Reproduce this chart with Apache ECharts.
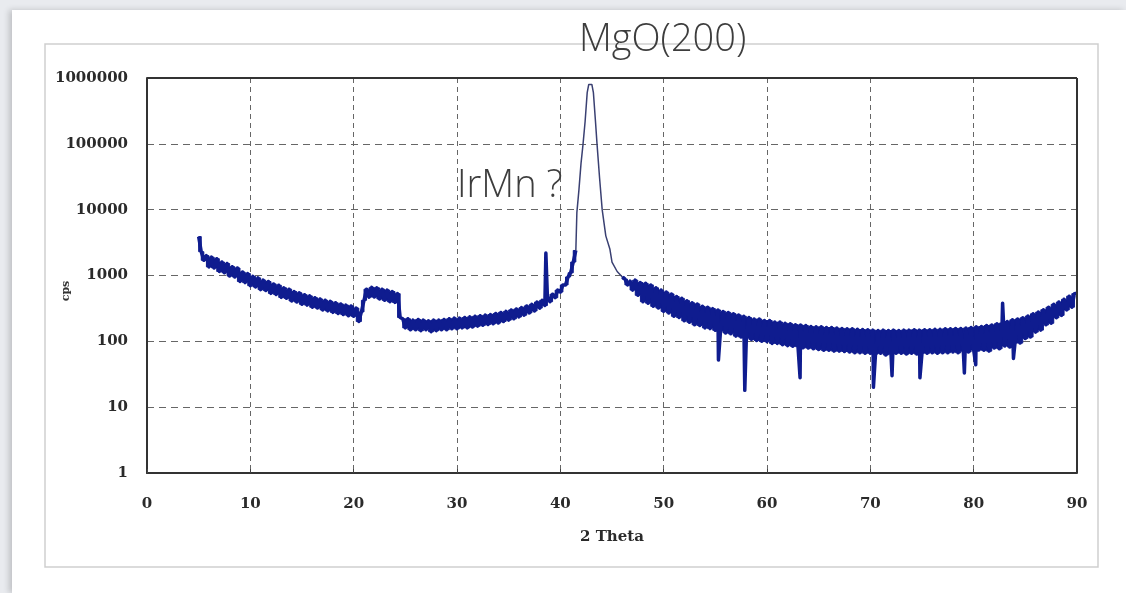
<!DOCTYPE html>
<html>
<head>
<meta charset="utf-8">
<title>XRD scan – MgO(200)</title>
<script src="https://cdn.jsdelivr.net/npm/echarts@6/dist/echarts.min.js"></script>
<style>
  html, body { margin: 0; padding: 0; width: 1126px; height: 593px; overflow: hidden; background: #e9ebef; }
  #sheet { position: absolute; left: 12px; top: 10px; right: 0; bottom: 0; background: #fff;
           box-shadow: -3px 0 6px rgba(0,0,0,0.18); }
  #chart { position: absolute; left: 0; top: 0; width: 1126px; height: 593px; }
</style>
</head>
<body>
<div id="sheet"></div>
<div id="chart"></div>
<script>
// 2θ scan, counts per second. Low-angle and high-angle backgrounds are
// sampled every 0.25°, alternating the lower and upper edge of the noise band.
const scanStep = 0.25;

// 5.00° … 41.50°
const lowAngleStart = 5;
const lowAngleCps = [
  3900, 2300, 1700, 2000,   // 5
  1350, 1900, 1300, 1800,   // 6
  1150, 1600, 1100, 1520,   // 7
  980, 1360, 950, 1300,     // 8
  810, 1130, 780, 1070,     // 9
  700, 970, 670, 920,       // 10
  610, 850, 590, 810,       // 11
  535, 745, 515, 710,       // 12
  465, 650, 450, 620,       // 13
  410, 570, 395, 545,       // 14
  365, 510, 355, 490,       // 15
  330, 460, 320, 440,       // 16
  300, 420, 290, 405,       // 17
  275, 385, 265, 370,       // 18
  255, 355, 245, 345,       // 19
  240, 320, 200, 280,       // 20
  420, 620, 470, 660,       // 21
  470, 650, 440, 620,       // 22
  420, 600, 400, 570,       // 23
  390, 530, 230, 220,       // 24
  160, 220, 150, 210,       // 25
  150, 215, 145, 210,       // 26
  150, 205, 140, 210,       // 27
  145, 210, 150, 215,       // 28
  150, 220, 155, 225,       // 29
  155, 225, 160, 230,       // 30
  160, 235, 165, 240,       // 31
  170, 245, 175, 250,       // 32
  180, 255, 185, 265,       // 33
  190, 275, 200, 285,       // 34
  210, 300, 220, 310,       // 35
  235, 325, 250, 345,       // 36
  270, 365, 290, 395,       // 37
  320, 420, 350, 470,       // 38
  400, 520, 460, 600,       // 39
  560, 720, 720, 950,       // 40
  1100, 1600, 2400          // 41
];

// MgO(200) reflection
const peakTheta = [41.5, 41.6, 41.8, 42.0, 42.2, 42.4, 42.6, 42.75, 42.9, 43.05, 43.2, 43.4,
                   43.55, 43.8, 44.05, 44.4, 44.8, 45.0, 45.5, 46.0];
const peakCps   = [2400, 9000, 20000, 50000, 100000, 220000, 600000, 800000, 820000, 800000, 600000, 220000,
                   100000, 30000, 10000, 4000, 2500, 1600, 1150, 950];

// 46.00° … 90.00°
const highAngleStart = 46;
const highAngleCps = [
  950, 880, 720, 820,       // 46
  600, 850, 500, 780,       // 47
  400, 760, 380, 720,       // 48
  340, 650, 320, 600,       // 49
  285, 560, 270, 525,       // 50
  240, 480, 230, 450,       // 51
  205, 415, 195, 385,       // 52
  178, 370, 174, 340,       // 53
  160, 330, 156, 314,       // 54
  147, 300, 143, 285,       // 55
  134, 275, 130, 263,       // 56
  120, 252, 116, 240,       // 57
  112, 230, 107, 218,       // 58
  103, 218, 100, 207,       // 59
  99, 207, 93, 196,         // 60
  93, 196, 89, 188,         // 61
  86, 185, 84, 179,         // 62
  83, 177, 80, 174,         // 63
  79, 168, 77, 166,         // 64
  75, 166, 73, 162,         // 65
  73, 162, 71, 159,         // 66
  71, 157, 70, 155,         // 67
  69, 155, 67, 152,         // 68
  67, 151, 66, 150,         // 69
  66, 148, 64, 146,         // 70
  66, 148, 62, 146,         // 71
  64, 148, 66, 146,         // 72
  66, 148, 64, 148,         // 73
  66, 150, 64, 148,         // 74
  66, 150, 66, 150,         // 75
  67, 152, 66, 152,         // 76
  67, 155, 67, 155,         // 77
  69, 157, 67, 157,         // 78
  71, 159, 69, 162,         // 79
  74, 166, 74, 168,         // 80
  73, 174, 71, 177,         // 81
  79, 185, 77, 190,         // 82
  85, 200, 82, 212,         // 83
  94, 218, 94, 228,         // 84
  110, 242, 116, 262,       // 85
  138, 278, 148, 302,       // 86
  178, 330, 188, 365,       // 87
  228, 395, 248, 435,       // 88
  300, 485, 330, 530,       // 89
  540                       // 90
];

// single-channel spikes in the background
const spikeTheta = [38.6, 55.3, 57.85, 63.2, 70.3, 72.1, 74.8, 79.1, 80.2, 82.8, 83.85];
const spikeCps   = [2200, 52, 18, 28, 20, 30, 28, 33, 44, 380, 55];

const xTicks = [0, 10, 20, 30, 40, 50, 60, 70, 80, 90];
const yTicks = [1, 10, 100, 1000, 10000, 100000, 1000000];

function sampled(start, values) {
  return values.map((v, i) => [start + i * scanStep, v]);
}
function withSpikes(points, lo, hi) {
  const extra = [];
  spikeTheta.forEach((t, i) => { if (t > lo && t < hi) extra.push([t, spikeCps[i]]); });
  return points.concat(extra).sort((a, b) => a[0] - b[0]);
}

const lowSamples = sampled(lowAngleStart, lowAngleCps);
const highSamples = sampled(highAngleStart, highAngleCps);
const lowData = withSpikes(lowSamples, 0, 42);
const highData = withSpikes(highSamples, 46, 91);
const peakData = peakTheta.map((t, i) => [t, peakCps[i]]);

const serif = '"DejaVu Serif", "Liberation Serif", serif';
const sans = '"Open Sans", Lato, sans-serif';
const navy = '#0f1c8f';

// Solid fill of the area the noisy trace sweeps between neighbouring samples.
function bandSeries(samples) {
  return {
    type: 'custom', coordinateSystem: 'cartesian2d', silent: true, z: 1,
    data: samples,
    encode: { x: 0, y: 1 },
    renderItem: function (params, api) {
      if (params.dataIndex !== 0) return null;
      const upper = [], lower = [];
      for (let i = 0; i < samples.length - 1; i++) {
        const a = samples[i], b = samples[i + 1];
        upper.push(api.coord([a[0], Math.max(a[1], b[1])]));
        lower.push(api.coord([a[0], Math.min(a[1], b[1])]));
        upper.push(api.coord([b[0], Math.max(a[1], b[1])]));
        lower.push(api.coord([b[0], Math.min(a[1], b[1])]));
      }
      return {
        type: 'polygon',
        shape: { points: upper.concat(lower.reverse()) },
        style: { fill: navy, stroke: navy, lineWidth: 1 }
      };
    }
  };
}

const chart = echarts.init(document.getElementById('chart'), null, { renderer: 'canvas' });
chart.setOption({
  backgroundColor: 'transparent',
  animation: false,
  grid: { left: 147, top: 78, right: 49, bottom: 120, containLabel: false, show: false },
  xAxis: {
    type: 'value', min: 0, max: 90, interval: 10,
    name: '2 Theta', nameLocation: 'middle', nameGap: 57,
    nameTextStyle: { fontFamily: serif, fontWeight: 'bold', fontSize: 15, color: '#2a2a2a' },
    axisLine: { show: true, onZero: false, lineStyle: { color: '#333', width: 2 } },
    axisTick: { show: true, inside: true, length: 4, lineStyle: { color: '#444' } },
    axisLabel: { fontFamily: serif, fontWeight: 'bold', fontSize: 15, color: '#2a2a2a', margin: 24,
                 formatter: v => (xTicks.indexOf(v) >= 0 ? String(v) : '') },
    splitLine: { show: true, lineStyle: { color: '#666', width: 1, type: [5, 4] } }
  },
  yAxis: {
    type: 'log', logBase: 10, min: 1, max: 1000000,
    axisLine: { show: true, lineStyle: { color: '#333', width: 2 } },
    axisTick: { show: false },
    axisLabel: { fontFamily: serif, fontWeight: 'bold', fontSize: 15, color: '#2a2a2a', margin: 19,
                 formatter: v => (yTicks.indexOf(v) >= 0 ? String(v) : '') },
    splitLine: { show: true, lineStyle: { color: '#666', width: 1, type: [7, 5] } }
  },
  graphic: [
    { type: 'rect', silent: true, z: -1,
      shape: { x: 45, y: 44, width: 1053, height: 523 },
      style: { fill: '#fff', stroke: '#cfcfcf', lineWidth: 1.5 } },
    { type: 'rect', silent: true, z: 5,
      shape: { x: 1077, y: 78, width: 0, height: 395 },
      style: { stroke: '#333', lineWidth: 2 } },
    { type: 'rect', silent: true, z: 5,
      shape: { x: 147, y: 78, width: 930, height: 0 },
      style: { stroke: '#333', lineWidth: 2 } },
    { type: 'text', silent: true, z: 10, x: 66, y: 291, rotation: Math.PI / 2,
      style: { text: 'cps', fontFamily: serif, fontWeight: 'bold', fontSize: 11, fill: '#333',
               textAlign: 'center', textVerticalAlign: 'middle' } },
    { type: 'text', silent: true, z: 10, left: 579, top: 21,
      style: { text: 'MgO(200)', fontFamily: sans, fontWeight: 300, fontSize: 38, fill: '#3d3d3d' } },
    { type: 'text', silent: true, z: 10, left: 457, top: 167,
      style: { text: 'IrMn ?', fontFamily: sans, fontWeight: 300, fontSize: 38, fill: '#3d3d3d' } }
  ],
  series: [
    bandSeries(lowSamples),
    bandSeries(highSamples),
    { type: 'line', data: lowData, showSymbol: false, clip: true, z: 2,
      lineStyle: { color: navy, width: 3.5, join: 'round' } },
    { type: 'line', data: peakData, showSymbol: false, clip: true, z: 2,
      lineStyle: { color: '#3a4072', width: 1.5 } },
    { type: 'line', data: highData, showSymbol: false, clip: true, z: 2,
      lineStyle: { color: navy, width: 3.5, join: 'round' } }
  ]
});
</script>
</body>
</html>
